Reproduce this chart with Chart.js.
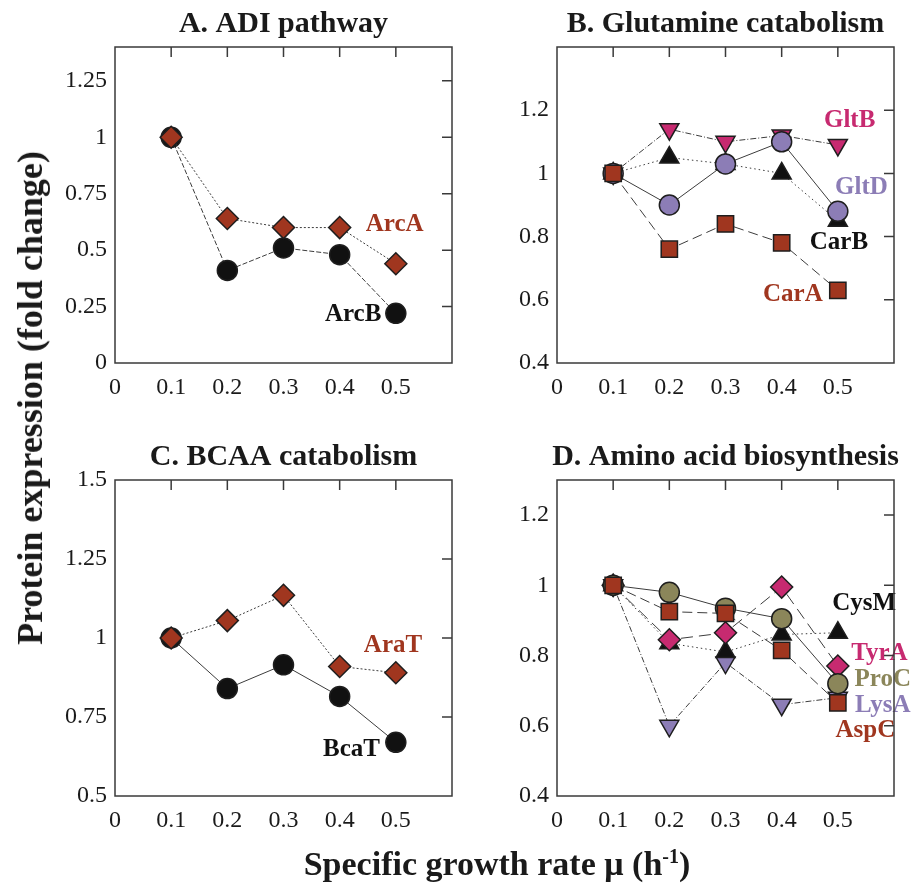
<!DOCTYPE html>
<html>
<head>
<meta charset="utf-8">
<script src="https://cdn.jsdelivr.net/npm/chart.js@4.4.0/dist/chart.umd.min.js"></script>
<style>
  body { margin: 0; background: #fff; }
  #wrap { position: relative; width: 914px; height: 889px; font-family: 'Liberation Serif', serif; color: #1a1a1a; }
  #wrap canvas { position: absolute; }
  .ytitle { position: absolute; left: 30px; top: 398px; transform: translate(-50%, -50%) rotate(-90deg);
            white-space: nowrap; font-weight: bold; font-size: 36px; }
  .xtitle { position: absolute; left: 497px; top: 864px; transform: translate(-50%, -50%);
            white-space: nowrap; font-weight: bold; font-size: 34px; }
  .xtitle sup { font-size: 20px; }
</style>
</head>
<body>
<div id="wrap">
  <canvas id="panelA" width="432" height="420" style="left:40px;top:0px"></canvas>
  <canvas id="panelB" width="432" height="420" style="left:482px;top:0px"></canvas>
  <canvas id="panelC" width="432" height="420" style="left:40px;top:433px"></canvas>
  <canvas id="panelD" width="432" height="420" style="left:482px;top:433px"></canvas>
  <div class="ytitle">Protein expression (fold change)</div>
  <div class="xtitle">Specific growth rate μ (h<sup>-1</sup>)</div>
</div>
<script>
// growth rates (h-1)
const mu = [0.1, 0.2, 0.3, 0.4, 0.5];
const xTicks = [0, 0.1, 0.2, 0.3, 0.4, 0.5];

// A. ADI pathway
const arcA = [1, 0.64, 0.60, 0.60, 0.44];
const arcB = [1, 0.41, 0.51, 0.48, 0.22];
const yTicksA = [0, 0.25, 0.5, 0.75, 1, 1.25];

// B. Glutamine catabolism
const gltB = [1, 1.14, 1.10, 1.12, 1.09];
const gltD = [1, 0.90, 1.03, 1.10, 0.88];
const carB = [1, 1.05, 1.03, 1.00, 0.85];
const carA = [1, 0.76, 0.84, 0.78, 0.63];
const yTicksB = [0.4, 0.6, 0.8, 1, 1.2];

// C. BCAA catabolism
const araT = [1, 1.055, 1.135, 0.91, 0.89];
const bcaT = [1, 0.84, 0.915, 0.815, 0.67];
const yTicksC = [0.5, 0.75, 1, 1.25, 1.5];

// D. Amino acid biosynthesis
const cysM = [1, 0.835, 0.81, 0.86, 0.865];
const tyrA = [1, 0.845, 0.865, 0.995, 0.77];
const proC = [1, 0.98, 0.935, 0.905, 0.72];
const lysA = [1, 0.60, 0.78, 0.66, 0.68];
const aspC = [1, 0.925, 0.92, 0.815, 0.665];
const yTicksD = [0.4, 0.6, 0.8, 1, 1.2];

const BROWN = '#a0361f', PINK = '#c72a70', PURPLE = '#8c7db6', OLIVE = '#8b865a', BLACK = '#111';
const LINE = '#3c3c3c';

// draws the boxed frame, inner ticks, panel title and the gene name labels
const framePlugin = {
  id: 'frame',
  afterDraw(chart, args, opts) {
    const { ctx, chartArea: a } = chart;
    const x = chart.scales.x, y = chart.scales.y;
    ctx.save();
    ctx.textAlign = 'center';
    ctx.textBaseline = 'middle';
    ctx.font = 'bold 25px "Liberation Serif"';
    opts.notes.forEach(n => {
      ctx.fillStyle = n.color;
      ctx.fillText(n.text, x.getPixelForValue(n.at[0]), y.getPixelForValue(n.at[1]));
    });

    ctx.strokeStyle = '#3a3a3a';
    ctx.lineWidth = 1.5;
    ctx.strokeRect(a.left, a.top, a.width, a.height);
    ctx.beginPath();
    x.ticks.forEach(t => {
      const px = x.getPixelForValue(t.value);
      if (px > a.left + 2 && px < a.right - 2) { ctx.moveTo(px, a.top); ctx.lineTo(px, a.top + 10); }
    });
    y.ticks.forEach(t => {
      const py = y.getPixelForValue(t.value);
      if (py > a.top + 2 && py < a.bottom - 2) { ctx.moveTo(a.right, py); ctx.lineTo(a.right - 10, py); }
    });
    ctx.stroke();

    ctx.fillStyle = '#1a1a1a';
    ctx.font = 'bold 30px "Liberation Serif"';
    ctx.fillText(opts.title, (a.left + a.right) / 2, a.top - 23);
    ctx.restore();
  }
};

function makePanel(id, title, yMin, yMax, yTicks, series, notes) {
  new Chart(document.getElementById(id), {
    type: 'line',
    data: {
      datasets: series.map(s => ({
        label: s.label,
        data: mu.map((m, i) => ({ x: m, y: s.data[i] })),
        borderColor: LINE,
        borderWidth: 1,
        borderDash: s.dash,
        fill: false,
        tension: 0,
        pointStyle: s.style,
        pointRotation: s.rot || 0,
        pointRadius: s.r,
        pointBackgroundColor: s.color,
        pointBorderColor: '#1e1e1e',
        pointBorderWidth: 1.5
      }))
    },
    options: {
      responsive: false,
      animation: false,
      layout: { padding: { top: 47, right: 20, left: 0, bottom: 0 } },
      plugins: {
        legend: { display: false },
        tooltip: { enabled: false },
        frame: { title: title, notes: notes }
      },
      scales: {
        x: {
          type: 'linear', min: 0, max: 0.6,
          afterBuildTicks: s => { s.ticks = xTicks.map(v => ({ value: v })); },
          afterFit: s => { s.height = 57; },
          grid: { display: false, drawTicks: false },
          border: { display: false },
          ticks: { padding: 10, color: '#1a1a1a', font: { family: 'Liberation Serif', size: 24 }, callback: v => String(v) }
        },
        y: {
          type: 'linear', min: yMin, max: yMax,
          afterBuildTicks: s => { s.ticks = yTicks.map(v => ({ value: v })); },
          afterFit: s => { s.width = 75; },
          grid: { display: false, drawTicks: false },
          border: { display: false },
          ticks: { padding: 8, color: '#1a1a1a', font: { family: 'Liberation Serif', size: 24 }, callback: v => String(v) }
        }
      }
    },
    plugins: [framePlugin]
  });
}

makePanel('panelA', 'A. ADI pathway', 0, 1.4, yTicksA, [
  { label: 'ArcA', data: arcA, style: 'rectRot', r: 11, color: BROWN, dash: [2, 2] },
  { label: 'ArcB', data: arcB, style: 'circle', r: 10, color: BLACK, dash: [5, 2] }
], [
  { text: 'ArcA', color: BROWN, at: [0.498, 0.613] },
  { text: 'ArcB', color: BLACK, at: [0.424, 0.213] }
]);

makePanel('panelB', 'B. Glutamine catabolism', 0.4, 1.4, yTicksB, [
  { label: 'CarA', data: carA, style: 'rect', r: 11.5, color: BROWN, dash: [10, 5] },
  { label: 'GltD', data: gltD, style: 'circle', r: 10, color: PURPLE, dash: [] },
  { label: 'CarB', data: carB, style: 'triangle', r: 11, color: BLACK, dash: [1.5, 3] },
  { label: 'GltB', data: gltB, style: 'triangle', rot: 180, r: 11, color: PINK, dash: [6, 2, 1, 2] }
], [
  { text: 'GltB', color: PINK, at: [0.521, 1.168] },
  { text: 'GltD', color: PURPLE, at: [0.542, 0.954] },
  { text: 'CarB', color: BLACK, at: [0.502, 0.78] },
  { text: 'CarA', color: BROWN, at: [0.42, 0.616] }
]);

makePanel('panelC', 'C. BCAA catabolism', 0.5, 1.5, yTicksC, [
  { label: 'AraT', data: araT, style: 'rectRot', r: 11, color: BROWN, dash: [2, 2] },
  { label: 'BcaT', data: bcaT, style: 'circle', r: 10, color: BLACK, dash: [] }
], [
  { text: 'AraT', color: BROWN, at: [0.495, 0.976] },
  { text: 'BcaT', color: BLACK, at: [0.421, 0.648] }
]);

makePanel('panelD', 'D. Amino acid biosynthesis', 0.4, 1.3, yTicksD, [
  { label: 'AspC', data: aspC, style: 'rect', r: 11.5, color: BROWN, dash: [10, 5] },
  { label: 'ProC', data: proC, style: 'circle', r: 10, color: OLIVE, dash: [] },
  { label: 'TyrA', data: tyrA, style: 'rectRot', r: 11, color: PINK, dash: [12, 6] },
  { label: 'CysM', data: cysM, style: 'triangle', r: 11, color: BLACK, dash: [1.5, 3] },
  { label: 'LysA', data: lysA, style: 'triangle', rot: 180, r: 11, color: PURPLE, dash: [6, 2, 1, 2] }
], [
  { text: 'CysM', color: BLACK, at: [0.547, 0.948] },
  { text: 'TyrA', color: PINK, at: [0.574, 0.805] },
  { text: 'ProC', color: OLIVE, at: [0.58, 0.731] },
  { text: 'LysA', color: PURPLE, at: [0.58, 0.657] },
  { text: 'AspC', color: BROWN, at: [0.549, 0.586] }
]);
</script>
</body>
</html>
